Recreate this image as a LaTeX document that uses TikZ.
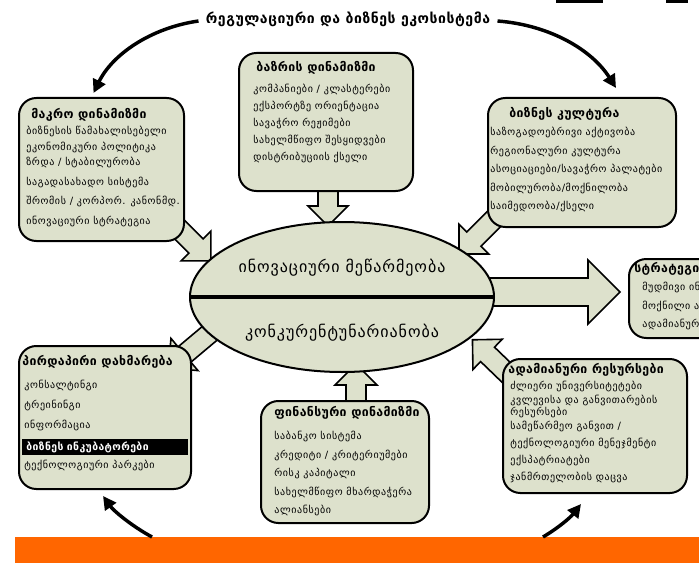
\documentclass[tikz,border=0pt]{standalone}
\usepackage{fontspec}
\setmainfont{DejaVu Sans}
\usetikzlibrary{arrows.meta,backgrounds,calc,shapes.geometric}

\definecolor{panelfill}{RGB}{221,225,204}
\definecolor{barorange}{RGB}{255,102,0}

\tikzset{every picture/.style={line width=0.55pt}}
\tikzset{
  panel/.style 2 args={draw, line width=1.5pt, fill=panelfill, rounded corners=13pt,
    inner sep=0pt, anchor=north west, minimum width=#1*0.75pt, minimum height=#2*0.75pt},
  titletext/.style={inner sep=0.75pt, font=\bfseries\fontsize{10.5}{12}\selectfont\addfontfeatures{LetterSpace=4}},
  headtext/.style={anchor=west, inner sep=0.75pt, font=\bfseries\fontsize{9.2}{11}\selectfont\addfontfeatures{LetterSpace=3}},
  bodytext/.style={anchor=north west, inner sep=0.75pt, align=left},
  bodyfont/.style={font=\fontsize{7.5}{#1}\selectfont\addfontfeatures{LetterSpace=6}},
  bigtext/.style={inner sep=0.75pt, font=\fontsize{12}{14}\selectfont\addfontfeatures{LetterSpace=6}},
  arrowline/.style={draw, line width=1.2pt, fill=panelfill, line join=miter},
  bigcurve/.style={line width=2.6pt, -{Triangle[length=10pt,width=10pt]}},
  pics/fatarrow/.style n args={3}{code={
    \draw[arrowline] (0,-#2) -- (#1-#3,-#2) -- (#1-#3,-#3) -- (#1,0) -- (#1-#3,#3) -- (#1-#3,#2) -- (0,#2) -- cycle;}}
}

\begin{document}
\begin{tikzpicture}[x=0.75pt,y=0.75pt,yscale=-1,xscale=1]
\useasboundingbox (0,0) rectangle (699,563);
\clip (0,0) rectangle (699,563);

% title and bottom bar
\node[titletext] (eco) at (348,19) {რეგულაციური და ბიზნეს ეკოსისტემა};
\node[fill=barorange, inner sep=0pt, anchor=north west, minimum width=690*0.75pt, minimum height=30*0.75pt] (bar) at (15,537) {};
\draw[line width=2.5pt] (556,1) -- (603,1);
\draw[line width=2.5pt] (666,1) -- (688,1);

% centre
\node[ellipse, draw, line width=1.5pt, fill=panelfill, inner sep=0pt, minimum width=304*0.75pt, minimum height=150*0.75pt] (innov) at (342,297) {};
\draw[line width=3pt] (innov.west) -- (innov.east);
\node[bigtext] (innovtop) at (342,268) {ინოვაციური მეწარმეობა};
\node[bigtext] (innovbot) at (342,333) {კონკურენტუნარიანობა};

% panels
\node[panel={165}{143}] (macro) at (18,97) {};
\node[headtext] (macrohead) at (30,115) {მაკრო დინამიზმი};
\node[bodytext, bodyfont=11.6] (macrobody) at (25,125) {ბიზნესის წამახალისებელი\\ეკონომიკური პოლიტიკა\\ზრდა / სტაბილურობა\\[3pt]საგადასახადო სისტემა\\[3pt]შრომის / კორპორ. კანონმდ.\\[3pt]ინოვაციური სტრატეგია};

\node[panel={174}{138}] (market) at (238,52) {};
\node[headtext] (markethead) at (255,68) {ბაზრის დინამიზმი};
\node[bodytext, bodyfont=12.75] (marketbody) at (252,83) {კომპანიები / კლასტერები\\ექსპორტზე ორიენტაცია\\სავაჭრო რეჟიმები\\სახელმწიფო შესყიდვები\\დისტრიბუციის ქსელი};

\node[panel={188}{129}] (culture) at (487,97) {};
\node[headtext] (culturehead) at (508,114) {ბიზნეს კულტურა};
\node[bodytext, bodyfont=13.9] (culturebody) at (489,126) {საზოგადოებრივი აქტივობა\\რეგიონალური კულტურა\\ასოციაციები/სავაჭრო პალატები\\მობილურობა/მოქნილობა\\საიმედოობა/ქსელი};

\node[panel={110}{79}] (strategy) at (628,258) {};
\node[headtext] (strategyhead) at (633,269) {სტრატეგია};
\node[bodytext, bodyfont=13.9] (strategybody) at (641,281) {მუდმივი ინოვაცია\\მოქნილი ადაპტაცია\\ადამიანური კაპიტალი};

\node[panel={172}{143}] (direct) at (18,345) {};
\node[headtext] (directhead) at (21,362) {პირდაპირი დახმარება};
\node[bodytext, bodyfont=15] (directbody) at (23,379) {კონსალტინგი\\ტრეინინგი\\ინფორმაცია\\[15pt]ტექნოლოგიური პარკები};
\node[anchor=west, fill=black, text=white, inner sep=0pt, minimum width=166*0.75pt, minimum height=16*0.75pt, text width=162*0.75pt, font=\bfseries\fontsize{7.8}{9}\selectfont\addfontfeatures{LetterSpace=4}] (incub) at (22,447) {\hspace*{1.5pt}ბიზნეს ინკუბატორები};

\node[panel={184}{134}] (human) at (502,358) {};
\node[headtext] (humanhead) at (507,370) {ადამიანური რესურსები};
\node[bodytext, bodyfont=10] (humanbody) at (509,380) {ძლიერი უნივერსიტეტები\\კვლევისა და განვითარების\\[-1pt]რესურსები\\[1pt]სამეწარმეო განვით /\\[2.5pt]ტექნოლოგიური მენეჯმენტი\\[2.5pt]ექსპატრიატები\\[3pt]ჯანმრთელობის დაცვა};

\node[panel={168}{122}] (finance) at (260,400) {};
\node[headtext] (financehead) at (273,413) {ფინანსური დინამიზმი};
\node[bodytext, bodyfont=13.9] (financebody) at (273,430) {საბანკო სისტემა\\კრედიტი / კრიტერიუმები\\რისკ კაპიტალი\\სახელმწიფო მხარდაჭერა\\ალიანსები};

% block arrows into / out of the centre
\begin{scope}[on background layer]
  \pic[rotate=-90] at ($(market.south)+(2,-6)$) {fatarrow={40}{10}{20}};
  \pic[rotate=-45] at (172,222) {fatarrow={55}{10}{21}};
  \pic[rotate=-135] at (505,208) {fatarrow={65}{10}{21}};
  \pic[rotate=0] at (480,292) {fatarrow={140}{14}{32}};
  \pic[rotate=-140] at (222,323) {fatarrow={70}{10}{21}};
  \pic[rotate=90] at ($(finance.north)+(11,4)$) {fatarrow={40}{10}{21}};
  \pic[rotate=136] at (512,378) {fatarrow={55}{10}{21}};
\end{scope}

% curved arrows
\draw[bigcurve] ($(eco.west)+(-6,2)$) .. controls (150,28) and (112,55) .. ($(macro.north)+(-8,-4)$);
\draw[bigcurve] ($(eco.east)+(6,2)$) .. controls (550,25) and (592,50) .. ($(culture.north)+(34,-9)$);
\draw[bigcurve] ($(bar.north west)+(137,0)$) .. controls (130,525) and (113,510) .. ($(direct.south)+(-2,6)$);
\draw[bigcurve] ($(bar.north west)+(528,0)$) .. controls (558,528) and (570,518) .. ($(human.south)+(-14,10)$);
\end{tikzpicture}
\end{document}
